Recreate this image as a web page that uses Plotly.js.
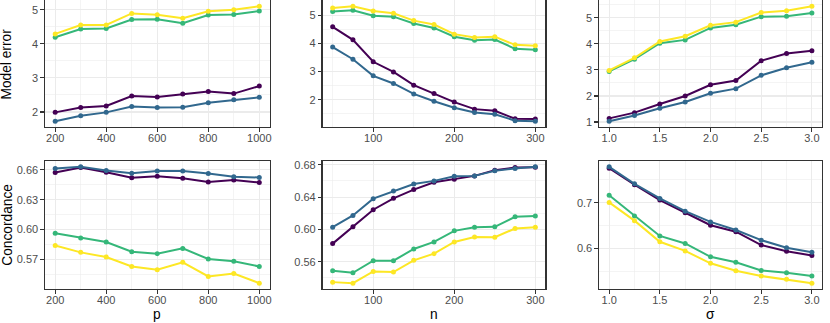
<!DOCTYPE html>
<html>
<head>
<meta charset="utf-8">
<script src="https://cdn.plot.ly/plotly-3.0.1.min.js"></script>
<style>
  html, body { margin: 0; padding: 0; background: #FFFFFF; }
  #chart { width: 830px; height: 323px; }
</style>
</head>
<body>
<div id="chart"></div>
<script>
// x values of the three simulation settings
const pValues = [200, 300, 400, 500, 600, 700, 800, 900, 1000];
const nValues = [50, 75, 100, 125, 150, 175, 200, 225, 250, 275, 300];
const sigmaValues = [1.0, 1.25, 1.5, 1.75, 2.0, 2.25, 2.5, 2.75, 3.0];

const seriesNames = ['Method 1', 'Method 2', 'Method 3', 'Method 4'];
const seriesColors = ['#440154', '#31688E', '#35B779', '#FDE725'];

// Model error vs p
const errorP1 = [1.99, 2.13, 2.18, 2.47, 2.44, 2.53, 2.60, 2.54, 2.76];
const errorP2 = [1.73, 1.89, 1.99, 2.16, 2.13, 2.14, 2.27, 2.36, 2.43];
const errorP3 = [4.19, 4.43, 4.45, 4.71, 4.72, 4.60, 4.84, 4.86, 4.96];
const errorP4 = [4.29, 4.55, 4.55, 4.89, 4.85, 4.75, 4.95, 5.00, 5.10];

// Model error vs n
const errorN1 = [4.59, 4.13, 3.35, 2.99, 2.52, 2.22, 1.92, 1.67, 1.61, 1.33, 1.32];
const errorN2 = [3.87, 3.44, 2.85, 2.58, 2.21, 1.95, 1.72, 1.55, 1.49, 1.26, 1.24];
const errorN3 = [5.13, 5.18, 4.98, 4.95, 4.71, 4.55, 4.24, 4.11, 4.14, 3.81, 3.78];
const errorN4 = [5.26, 5.32, 5.15, 5.07, 4.81, 4.67, 4.33, 4.21, 4.24, 3.95, 3.92];

// Model error vs sigma
const errorS1 = [1.14, 1.36, 1.69, 2.00, 2.43, 2.59, 3.35, 3.63, 3.73];
const errorS2 = [1.03, 1.25, 1.53, 1.77, 2.10, 2.28, 2.79, 3.08, 3.29];
const errorS3 = [2.94, 3.41, 4.02, 4.15, 4.61, 4.73, 5.04, 5.06, 5.18];
const errorS4 = [2.98, 3.46, 4.09, 4.29, 4.71, 4.83, 5.20, 5.27, 5.44];

// Concordance vs p
const concP1 = [0.6573, 0.6624, 0.6576, 0.6520, 0.6536, 0.6516, 0.6479, 0.6499, 0.6472];
const concP2 = [0.6613, 0.6630, 0.6593, 0.6566, 0.6587, 0.6587, 0.6563, 0.6530, 0.6523];
const concP3 = [0.5963, 0.5916, 0.5876, 0.5779, 0.5759, 0.5812, 0.5705, 0.5682, 0.5631];
const concP4 = [0.5841, 0.5772, 0.5725, 0.5631, 0.5598, 0.5672, 0.5530, 0.5560, 0.5463];

// Concordance vs n
const concN1 = [0.5824, 0.6032, 0.6244, 0.6385, 0.6493, 0.6584, 0.6621, 0.6663, 0.6734, 0.6767, 0.6771];
const concN2 = [0.6028, 0.6173, 0.6381, 0.6476, 0.6563, 0.6601, 0.6659, 0.6663, 0.6725, 0.6754, 0.6775];
const concN3 = [0.5488, 0.5463, 0.5612, 0.5612, 0.5758, 0.5845, 0.5982, 0.6028, 0.6032, 0.6156, 0.6165];
const concN4 = [0.5347, 0.5334, 0.5479, 0.5471, 0.5617, 0.5700, 0.5845, 0.5907, 0.5903, 0.6011, 0.6028];

// Concordance vs sigma
const concS1 = [0.7757, 0.7393, 0.7057, 0.6779, 0.6507, 0.6364, 0.6071, 0.5936, 0.5843];
const concS2 = [0.7786, 0.7414, 0.7093, 0.6814, 0.6579, 0.6400, 0.6179, 0.6014, 0.5914];
const concS3 = [0.7164, 0.6707, 0.6271, 0.6107, 0.5814, 0.5693, 0.5514, 0.5464, 0.5393];
const concS4 = [0.7007, 0.6607, 0.6143, 0.5943, 0.5671, 0.5507, 0.5393, 0.5321, 0.5236];

// panel grid (paper fractions)
const colDomains = [[0.0542, 0.3247], [0.3886, 0.6572], [0.7217, 0.9904]];
const rowDomains = [[0.6068, 0.9985], [0.1053, 0.5015]];

const panels = [
  { row: 0, col: 0, x: pValues, ys: [errorP1, errorP2, errorP3, errorP4], xd: 200, yd: 1, xf: '', yf: '' },
  { row: 0, col: 1, x: nValues, ys: [errorN1, errorN2, errorN3, errorN4], xd: 100, yd: 1, xf: '', yf: '' },
  { row: 0, col: 2, x: sigmaValues, ys: [errorS1, errorS2, errorS3, errorS4], xd: 0.5, yd: 1, xf: '.1f', yf: '' },
  { row: 1, col: 0, x: pValues, ys: [concP1, concP2, concP3, concP4], xd: 200, yd: 0.03, xf: '', yf: '.2f' },
  { row: 1, col: 1, x: nValues, ys: [concN1, concN2, concN3, concN4], xd: 100, yd: 0.04, xf: '', yf: '.2f' },
  { row: 1, col: 2, x: sigmaValues, ys: [concS1, concS2, concS3, concS4], xd: 0.5, yd: 0.1, xf: '.1f', yf: '.1f' }
];

// ggplot style 5% expansion
function expand(vals) {
  const lo = Math.min(...vals);
  const hi = Math.max(...vals);
  const d = (hi - lo) * 0.05;
  return [lo - d, hi + d];
}

function axisStyle(domain, anchor, range, dtick, fmt, standoff) {
  return {
    domain: domain,
    anchor: anchor,
    range: range,
    tick0: 0,
    dtick: dtick,
    tickformat: fmt,
    showgrid: true,
    gridcolor: '#EBEBEB',
    gridwidth: 1.1,
    minor: {
      tick0: 0,
      dtick: dtick / 2,
      showgrid: true,
      gridcolor: '#EBEBEB',
      gridwidth: 0.55,
      ticks: ''
    },
    zeroline: false,
    showline: true,
    mirror: true,
    linecolor: '#333333',
    linewidth: 1.1,
    ticks: 'outside',
    ticklen: 3.5,
    tickwidth: 1.1,
    tickcolor: '#333333',
    ticklabelstandoff: standoff,
    tickfont: { size: 11, color: '#4D4D4D' },
    fixedrange: true
  };
}

const data = [];
const layout = {
  width: 830,
  height: 323,
  margin: { l: 0, r: 0, t: 0, b: 0 },
  paper_bgcolor: '#FFFFFF',
  plot_bgcolor: '#FFFFFF',
  showlegend: false,
  font: { family: '"Liberation Sans", Arial, sans-serif', color: '#000000' },
  annotations: []
};

panels.forEach((panel, i) => {
  const k = i + 1;
  const xName = k === 1 ? 'x' : 'x' + k;
  const yName = k === 1 ? 'y' : 'y' + k;

  panel.ys.forEach((yVals, s) => {
    data.push({
      type: 'scatter',
      mode: 'lines+markers',
      x: panel.x,
      y: yVals,
      name: seriesNames[s],
      xaxis: xName,
      yaxis: yName,
      line: { color: seriesColors[s], width: 2 },
      marker: { color: seriesColors[s], size: 5 },
      hoverinfo: 'x+y+name'
    });
  });

  const allY = [].concat(...panel.ys);
  layout[k === 1 ? 'xaxis' : 'xaxis' + k] =
    axisStyle(colDomains[panel.col], yName, expand(panel.x), panel.xd, panel.xf, -3);
  layout[k === 1 ? 'yaxis' : 'yaxis' + k] =
    axisStyle(rowDomains[panel.row], xName, expand(allY), panel.yd, panel.yf, 0);
});

// axis titles shared by each row / column
const titleFont = { size: 13.75, color: '#000000' };
const yTitles = ['Model error', 'Concordance'];
yTitles.forEach((t, r) => {
  layout.annotations.push({
    text: t, xref: 'paper', yref: 'paper',
    x: 6.8 / 830, y: (rowDomains[r][0] + rowDomains[r][1]) / 2,
    xanchor: 'center', yanchor: 'middle', textangle: -90,
    showarrow: false, font: titleFont
  });
});
const xTitles = ['p', 'n', 'σ'];
xTitles.forEach((t, c) => {
  layout.annotations.push({
    text: t, xref: 'paper', yref: 'paper',
    x: (colDomains[c][0] + colDomains[c][1]) / 2, y: 0.025,
    xanchor: 'center', yanchor: 'middle',
    showarrow: false, font: titleFont
  });
});

Plotly.newPlot('chart', data, layout, { displayModeBar: false, staticPlot: true });
</script>
</body>
</html>
